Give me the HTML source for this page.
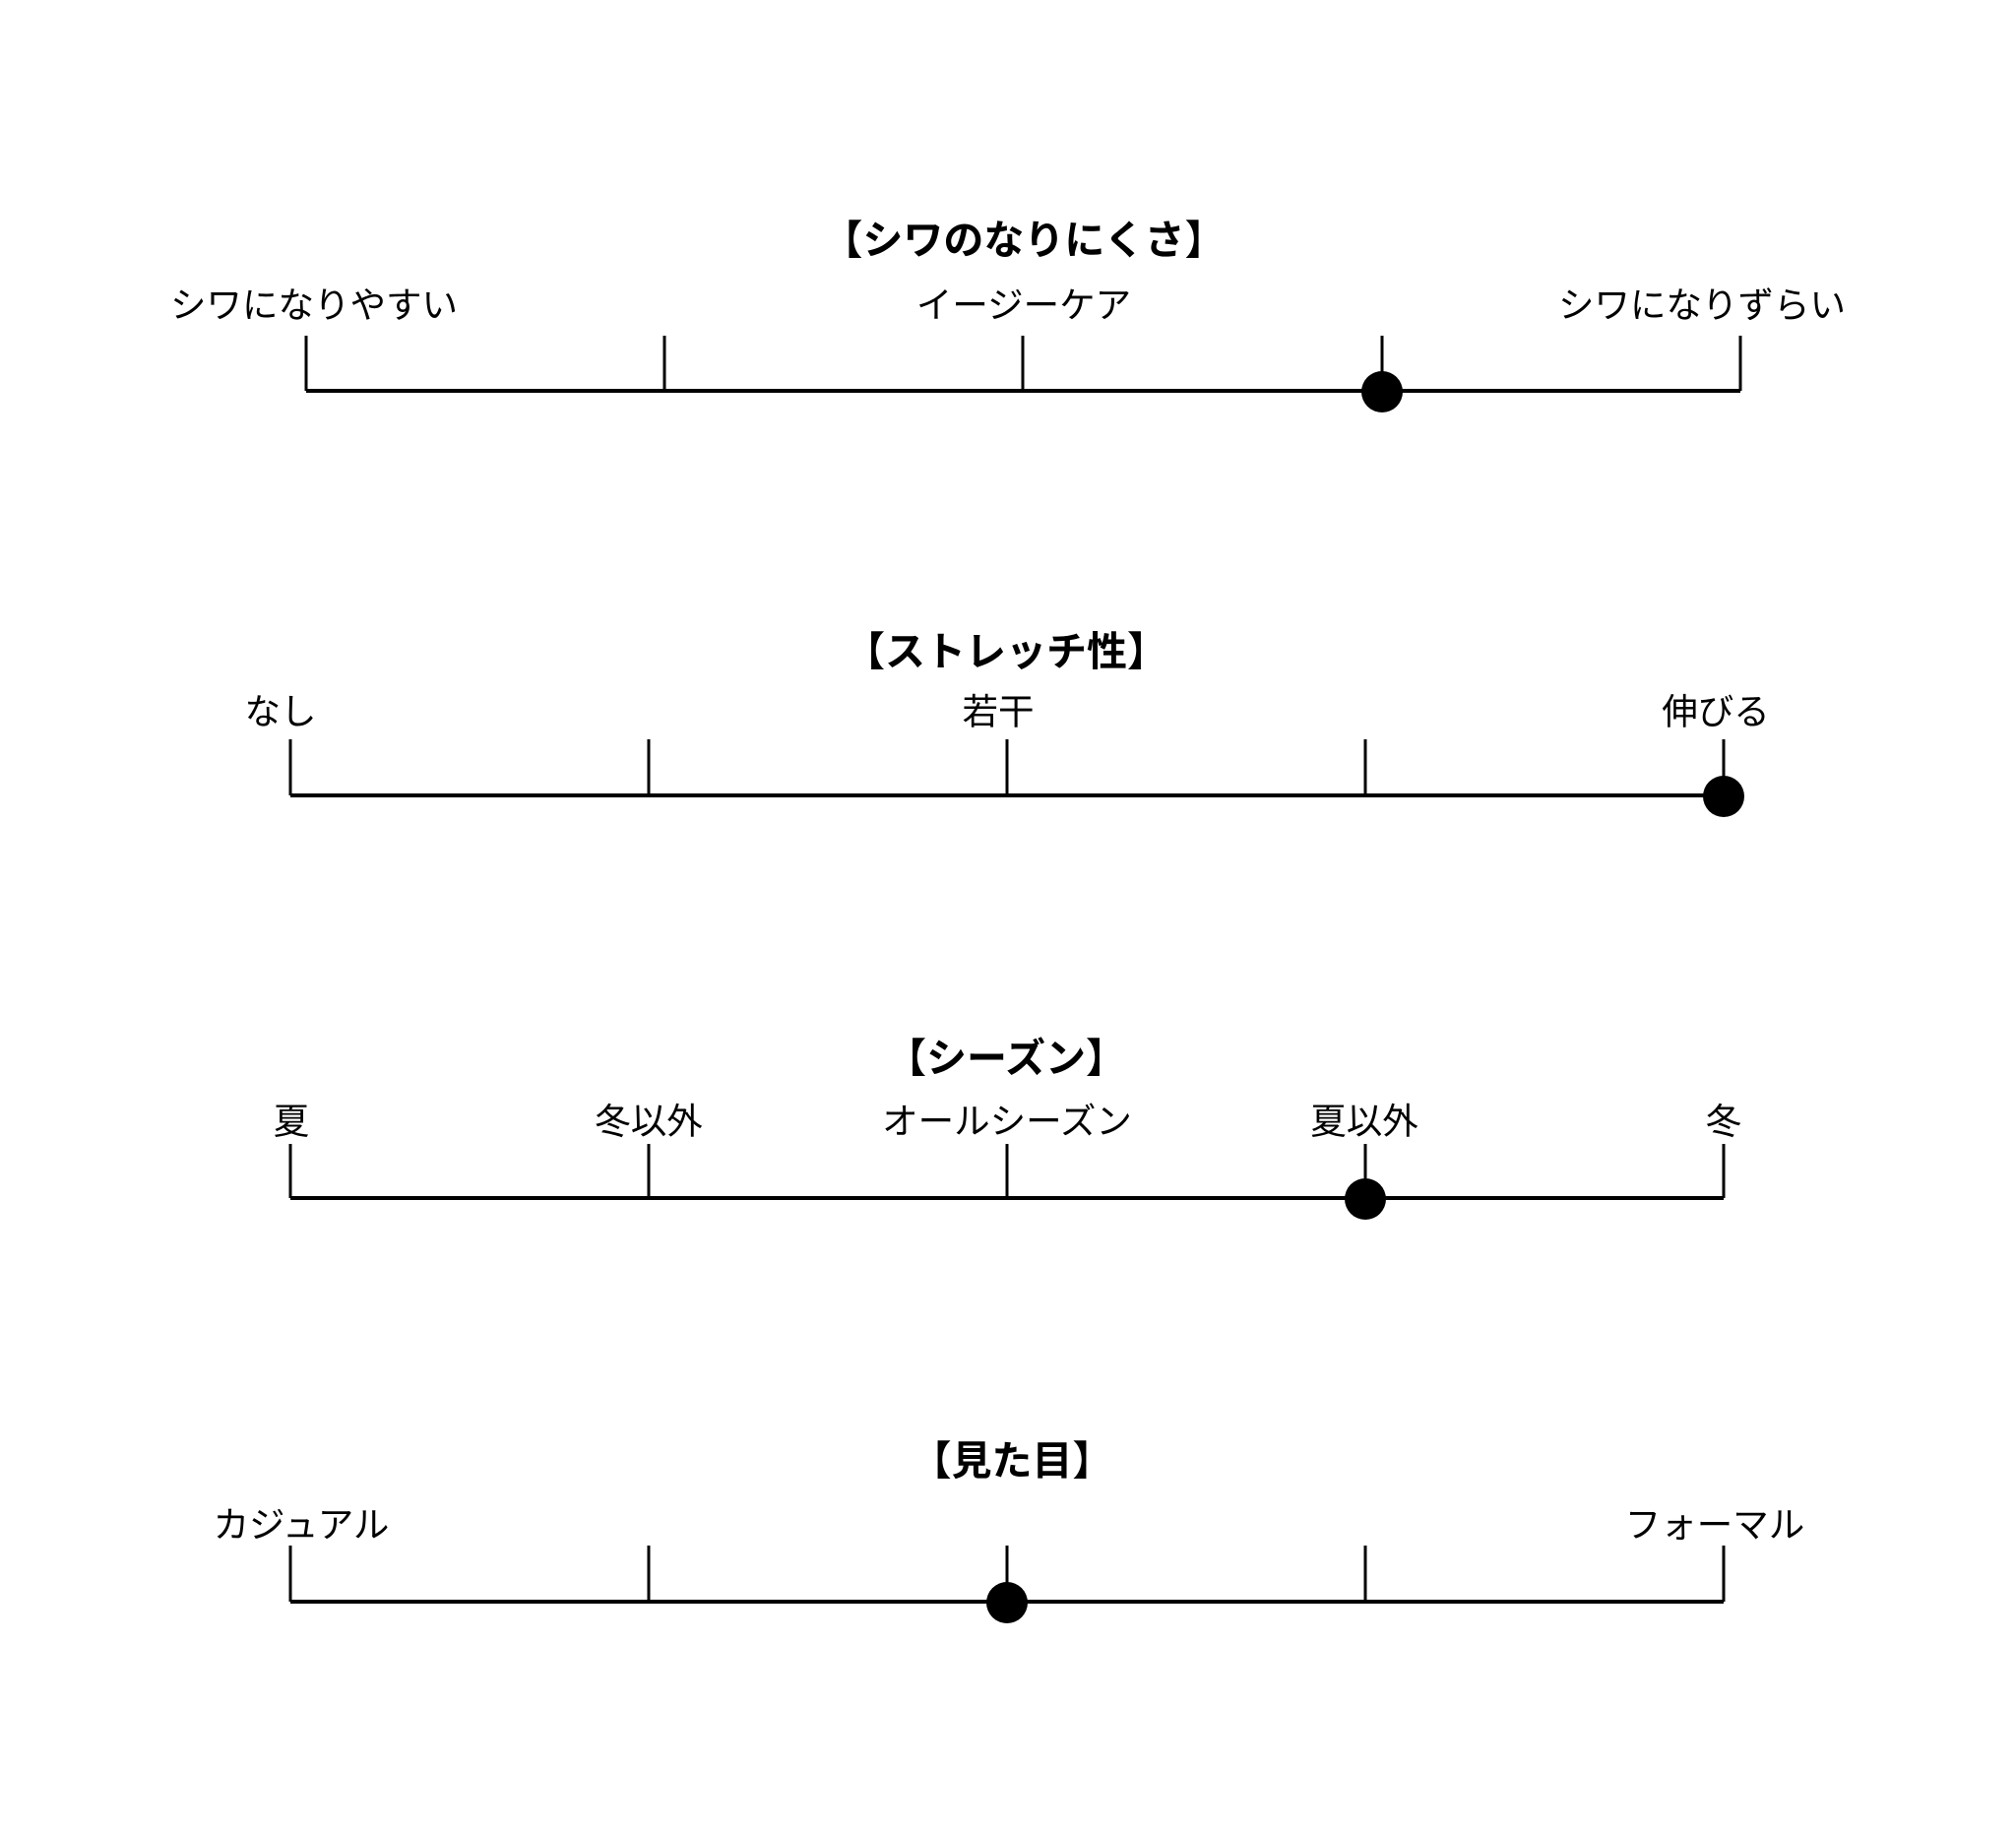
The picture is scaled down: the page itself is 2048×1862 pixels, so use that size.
<!DOCTYPE html>
<html><head><meta charset="utf-8"><style>
html,body{margin:0;padding:0;background:#fff}
svg{display:block}
text{font-family:"Liberation Sans","Noto Sans CJK JP",sans-serif;fill:#000}
.t{font-size:41px;font-weight:bold}
.l{font-size:36.5px}
</style></head><body>
<svg width="2048" height="1862" viewBox="0 0 2048 1862" xmlns="http://www.w3.org/2000/svg">
<g stroke="#000" stroke-width="3">
<line x1="311" y1="397" x2="1768" y2="397" stroke-width="4"/>
<line x1="311" y1="341" x2="311" y2="397"/><line x1="675" y1="341" x2="675" y2="397"/><line x1="1039" y1="341" x2="1039" y2="397"/><line x1="1404" y1="341" x2="1404" y2="397"/><line x1="1768" y1="341" x2="1768" y2="397"/>
<line x1="295" y1="808" x2="1751" y2="808" stroke-width="4"/>
<line x1="295" y1="751" x2="295" y2="808"/><line x1="659" y1="751" x2="659" y2="808"/><line x1="1023" y1="751" x2="1023" y2="808"/><line x1="1387" y1="751" x2="1387" y2="808"/><line x1="1751" y1="751" x2="1751" y2="808"/>
<line x1="295" y1="1217" x2="1751" y2="1217" stroke-width="4"/>
<line x1="295" y1="1162" x2="295" y2="1217"/><line x1="659" y1="1162" x2="659" y2="1217"/><line x1="1023" y1="1162" x2="1023" y2="1217"/><line x1="1387" y1="1162" x2="1387" y2="1217"/><line x1="1751" y1="1162" x2="1751" y2="1217"/>
<line x1="295" y1="1627" x2="1751" y2="1627" stroke-width="4"/>
<line x1="295" y1="1570" x2="295" y2="1627"/><line x1="659" y1="1570" x2="659" y2="1627"/><line x1="1023" y1="1570" x2="1023" y2="1627"/><line x1="1387" y1="1570" x2="1387" y2="1627"/><line x1="1751" y1="1570" x2="1751" y2="1627"/>
</g>
<circle cx="1404" cy="398" r="21"/>
<circle cx="1751" cy="809" r="21"/>
<circle cx="1387" cy="1218" r="21"/>
<circle cx="1023" cy="1628" r="21"/>
<g text-anchor="middle" dominant-baseline="central">
<text class="t" x="1040" y="244">【シワのなりにくさ】</text>
<text class="l" x="319" y="310">シワになりやすい</text>
<text class="l" x="1040" y="310">イージーケア</text>
<text class="l" x="1729" y="310">シワになりずらい</text>
<text class="t" x="1022" y="662">【ストレッチ性】</text>
<text class="l" x="285" y="723">なし</text>
<text class="l" x="1014" y="723">若干</text>
<text class="l" x="1743" y="723">伸びる</text>
<text class="t" x="1022" y="1075">【シーズン】</text>
<text class="l" x="296" y="1139">夏</text>
<text class="l" x="659" y="1139">冬以外</text>
<text class="l" x="1023" y="1139">オールシーズン</text>
<text class="l" x="1386" y="1139">夏以外</text>
<text class="l" x="1751" y="1139">冬</text>
<text class="t" x="1028" y="1484">【見た目】</text>
<text class="l" x="306" y="1549">カジュアル</text>
<text class="l" x="1742" y="1549">フォーマル</text>
</g>
</svg>
</body></html>
